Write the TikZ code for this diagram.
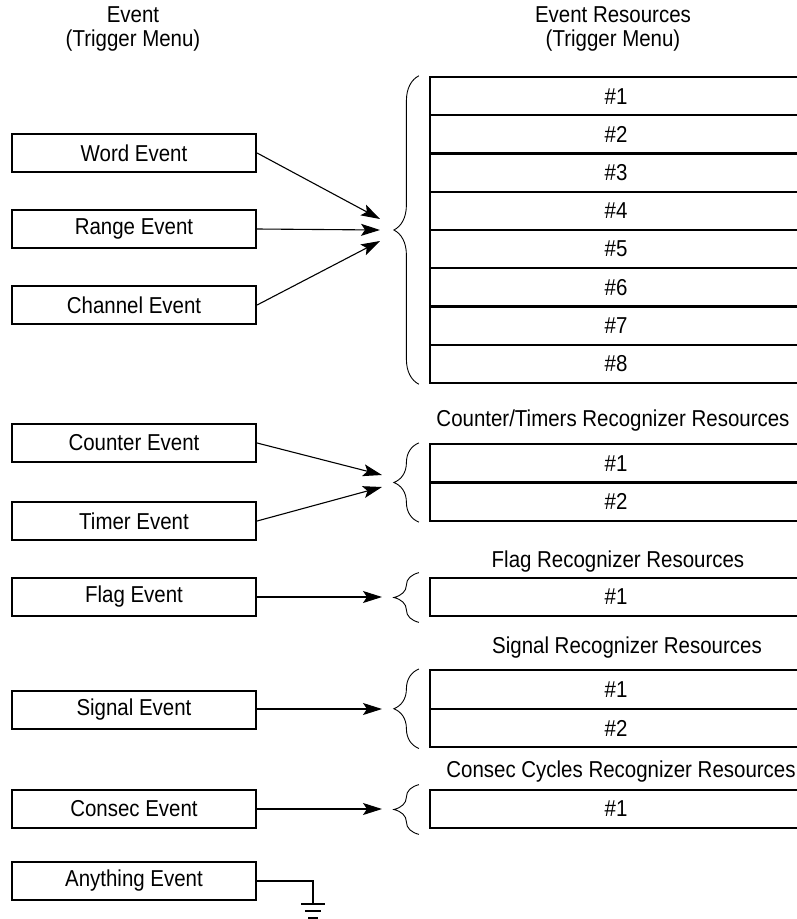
\documentclass[tikz,border=0pt]{standalone}
\usepackage{fontspec}
\setmainfont[FakeStretch=0.89]{Liberation Sans}
\usetikzlibrary{arrows.meta, positioning, calc, decorations.pathreplacing}

\begin{document}
\begin{tikzpicture}[x=1pt, y=-1pt,
		font=\fontsize{23}{24}\selectfont,
		evbox/.style={draw, rectangle, line width=2.2pt, minimum width=244pt, minimum height=38pt, inner sep=0pt},
		resbox/.style={draw, rectangle, line width=2.2pt, minimum width=372pt, minimum height=38.5pt, inner sep=0pt},
		grp/.style={decorate, decoration={brace, amplitude=25pt}, line width=0.9pt},
		wire/.style={line width=1.1pt},
		arr/.style={wire, -{Stealth[length=19pt, width=12pt, inset=4pt, fill=black]}}]
	\useasboundingbox (0,0) rectangle (796,919);

	% column heads
	\node[align=center] (evhead) at (133,29) {Event\\(Trigger Menu)};
	\node[align=center] (reshead) at (613,29) {Event Resources\\(Trigger Menu)};

	% events on the left
	\node[evbox] (word) at (134,153) {Word Event};
	\node[evbox] (range) at (134,229) {Range Event};
	\node[evbox] (channel) at (134,305) {Channel Event};
	\node[evbox] (counter) at (134,443) {Counter Event};
	\node[evbox] (timer) at (134,521) {Timer Event};
	\node[evbox] (flag) at (134,597) {Flag Event};
	\node[evbox] (signal) at (134,710) {Signal Event};
	\node[evbox] (consec) at (134,809) {Consec Event};
	\node[evbox] (anything) at (134,881) {Anything Event};

	% resource tables
	\foreach \i in {1,...,8}
		\node[resbox] (ev\i) at (616,{77+38.25*(\i-0.5)}) {\#\i};
	\foreach \i in {1,2}
		\node[resbox] (ct\i) at (616,{444+38.5*(\i-0.5)}) {\#\i};
	\node[resbox] (fl1) at (616,597) {\#1};
	\foreach \i in {1,2}
		\node[resbox] (sg\i) at (616,{670+38.75*(\i-0.5)}) {\#\i};
	\node[resbox] (cs1) at (616,809) {\#1};

	\node (ctlabel) at (613,421) {Counter/Timers Recognizer Resources};
	\node (fllabel) at (618,562) {Flag Recognizer Resources};
	\node (sglabel) at (627,648) {Signal Recognizer Resources};
	\node (cslabel) at (621,772) {Consec Cycles Recognizer Resources};

	% braces
	\draw[grp] ([xshift=-10pt]ev8.south west) -- ([xshift=-10pt]ev1.north west);
	\draw[grp] ([xshift=-10pt]ct2.south west) -- ([xshift=-10pt]ct1.north west);
	\draw[grp] ([xshift=-10pt,yshift=-5pt]fl1.south west) -- ([xshift=-10pt,yshift=4pt]fl1.north west);
	\draw[grp] ([xshift=-10pt]sg2.south west) -- ([xshift=-10pt]sg1.north west);
	\draw[grp] ([xshift=-10pt,yshift=-5pt]cs1.south west) -- ([xshift=-10pt,yshift=4pt]cs1.north west);

	% arrow ends
	\coordinate (evin1) at (380,219);
	\coordinate (evin2) at (380,230);
	\coordinate (evin3) at (380,241);
	\coordinate (ctin1) at (382,475);
	\coordinate (ctin2) at (382,487);
	\coordinate (flin) at (382,597);
	\coordinate (sgin) at (382,709);
	\coordinate (csin) at (382,809);
	\coordinate (gnd) at (313,904);

	\draw[arr] (word.east) -- (evin1);
	\draw[arr] (range.east) -- (evin2);
	\draw[arr] (channel.east) -- (evin3);
	\draw[arr] (counter.east) -- (ctin1);
	\draw[arr] (timer.east) -- (ctin2);
	\draw[arr] (flag.east) -- (flin);
	\draw[arr] (signal.east |- sgin) -- (sgin);
	\draw[arr] (consec.east) -- (csin);

	% ground
	\draw[wire] (anything.east) -| (gnd);
	\draw[wire] ([xshift=-12pt]gnd) -- ([xshift=12pt]gnd);
	\draw[wire] ([xshift=-8pt,yshift=-7pt]gnd) -- ([xshift=8pt,yshift=-7pt]gnd);
	\draw[wire] ([xshift=-5pt,yshift=-14pt]gnd) -- ([xshift=5pt,yshift=-14pt]gnd);
\end{tikzpicture}
\end{document}
